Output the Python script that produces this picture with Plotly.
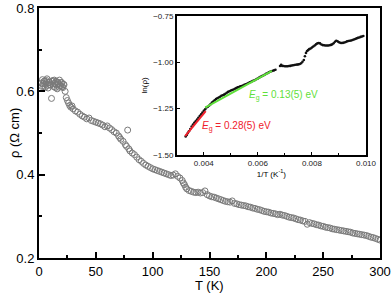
import plotly.graph_objects as go

# Main data: T (K) vs rho (Ohm cm)
T = [2, 2.5, 3, 3.5, 4, 4.5, 5, 5.5, 6, 6.5, 7, 7.5, 8, 8.5, 9, 9.5, 10, 11, 11.5, 12, 12.5, 13, 13.5,
     14, 14.5, 15, 15.5, 16, 16.5, 17, 17.5, 18, 18.5, 19, 19.5, 20, 20.5, 21, 21.5, 22,
     23, 24, 25, 26, 27, 28, 29, 30, 32, 34, 36, 38, 40, 42, 44, 46, 48, 50, 52, 54, 56, 58,
     60, 62, 64, 66, 68, 70, 71, 72, 74, 76, 77, 78, 79, 80, 82, 84, 86, 88, 90, 92, 94, 96, 98,
     100, 102, 104, 106, 108, 110, 112, 114, 116, 118, 120, 122, 124, 126, 127, 128, 129, 130,
     132, 134, 136, 138, 140, 142, 144, 146, 148, 150, 152, 154, 156, 158, 160, 162, 164, 166,
     168, 170, 172, 174, 176, 178, 180, 182, 184, 186, 188, 190, 192, 194, 196, 198, 200, 202,
     204, 206, 208, 210, 212, 214, 216, 218, 220, 222, 224, 226, 228, 230, 232, 234, 236, 238,
     240, 242, 244, 246, 248, 250, 252, 254, 256, 258, 260, 262, 264, 266, 268, 270, 272, 274,
     276, 278, 280, 282, 284, 286, 288, 290, 292, 294, 296, 298, 300]
rho = [0.620, 0.612, 0.628, 0.618, 0.612, 0.624, 0.625, 0.610, 0.617, 0.626, 0.630, 0.614, 0.608, 0.621,
       0.622, 0.616, 0.615, 0.583, 0.624, 0.626, 0.618, 0.611, 0.627, 0.619, 0.609, 0.624, 0.615, 0.606,
       0.622, 0.618, 0.610, 0.627, 0.614, 0.613, 0.621, 0.621, 0.611, 0.609, 0.617, 0.616,
       0.600, 0.585, 0.578, 0.572, 0.566, 0.562, 0.565, 0.558, 0.553, 0.550, 0.545, 0.541, 0.538, 0.534,
       0.536, 0.530, 0.528, 0.526, 0.524, 0.522, 0.519, 0.515, 0.517, 0.512, 0.508, 0.503, 0.500, 0.493,
       0.489, 0.485, 0.480, 0.472, 0.468, 0.507, 0.462, 0.457, 0.452, 0.448, 0.442, 0.436, 0.432, 0.427,
       0.423, 0.420, 0.417, 0.414, 0.412, 0.410, 0.408, 0.406, 0.404, 0.402, 0.400, 0.398, 0.399, 0.402,
       0.396, 0.392, 0.386, 0.380, 0.376, 0.370, 0.366, 0.362, 0.360, 0.358, 0.357, 0.358, 0.356, 0.357,
       0.361, 0.352, 0.349, 0.347, 0.346, 0.344, 0.342, 0.340, 0.338, 0.336, 0.335, 0.334, 0.337, 0.331,
       0.330, 0.328, 0.327, 0.326, 0.325, 0.323, 0.322, 0.320, 0.319, 0.317, 0.316, 0.314, 0.312, 0.311,
       0.310, 0.308, 0.307, 0.306, 0.304, 0.305, 0.303, 0.302, 0.300, 0.298, 0.297, 0.296, 0.294, 0.292,
       0.291, 0.289, 0.288, 0.281, 0.285, 0.283, 0.282, 0.280, 0.279, 0.277, 0.276, 0.274, 0.273, 0.272,
       0.270, 0.269, 0.268, 0.267, 0.266, 0.265, 0.264, 0.263, 0.262, 0.260, 0.259, 0.258, 0.257, 0.256,
       0.255, 0.254, 0.252, 0.250, 0.249, 0.247, 0.245, 0.243]

# Inset data: 1/T (K^-1) vs ln(rho)
invT = [0.00333, 0.00337, 0.00341, 0.00345, 0.00350, 0.00355, 0.00360, 0.00365, 0.00370, 0.00375,
        0.00380, 0.00385, 0.00390, 0.00395, 0.00400, 0.00405, 0.00410, 0.00415, 0.00420, 0.00425,
        0.00430, 0.00435, 0.00440, 0.00445, 0.00450, 0.00455, 0.00460, 0.00465, 0.00470, 0.00475,
        0.00480, 0.00485, 0.00490, 0.00495, 0.00500, 0.00505, 0.00510, 0.00515, 0.00520, 0.00525,
        0.00530, 0.00535, 0.00540, 0.00545, 0.00550, 0.00555, 0.00560, 0.00565, 0.00570, 0.00575,
        0.00580, 0.00585, 0.00590, 0.00595, 0.00600, 0.00605, 0.00610, 0.00615, 0.00620, 0.00625,
        0.00630, 0.00635, 0.00640, 0.00645, 0.00650, 0.00655, 0.00660, 0.00665, 0.00682, 0.00686,
        0.00690, 0.00695, 0.00700, 0.00705, 0.00710, 0.00715, 0.00720, 0.00725, 0.00730, 0.00735,
        0.00740, 0.00745, 0.00750, 0.00755, 0.00760, 0.00765, 0.00770, 0.00774, 0.00778, 0.00782,
        0.00786, 0.00790, 0.00795, 0.00800, 0.00805, 0.00810, 0.00815, 0.00820, 0.00825, 0.00830,
        0.00835, 0.00840, 0.00845, 0.00850, 0.00855, 0.00860, 0.00865, 0.00870, 0.00875, 0.00880,
        0.00885, 0.00890, 0.00895, 0.00900, 0.00905, 0.00910, 0.00915, 0.00920, 0.00925, 0.00930,
        0.00935, 0.00940, 0.00945, 0.00950, 0.00955, 0.00960, 0.00965, 0.00970, 0.00975, 0.00980,
        0.00985, 0.00990]
lnrho = [-1.400, -1.392, -1.382, -1.372, -1.360, -1.347, -1.336, -1.326, -1.318, -1.309,
         -1.300, -1.290, -1.281, -1.272, -1.262, -1.254, -1.244, -1.240, -1.234, -1.226,
         -1.218, -1.212, -1.205, -1.198, -1.194, -1.190, -1.186, -1.181, -1.178, -1.175,
         -1.170, -1.165, -1.160, -1.157, -1.153, -1.150, -1.147, -1.143, -1.140, -1.136,
         -1.134, -1.130, -1.129, -1.126, -1.122, -1.119, -1.116, -1.112, -1.108, -1.106,
         -1.102, -1.099, -1.096, -1.091, -1.088, -1.083, -1.079, -1.075, -1.072, -1.068,
         -1.063, -1.060, -1.055, -1.052, -1.049, -1.046, -1.044, -1.041, -1.021, -1.014,
         -1.020, -1.021, -1.022, -1.022, -1.022, -1.021, -1.020, -1.018, -1.017, -1.015,
         -1.014, -1.013, -1.012, -1.010, -1.006, -0.998, -0.988, -0.968, -0.950, -0.940,
         -0.935, -0.930, -0.926, -0.921, -0.916, -0.910, -0.904, -0.899, -0.897, -0.899,
         -0.905, -0.908, -0.909, -0.910, -0.910, -0.910, -0.909, -0.907, -0.904, -0.898,
         -0.890, -0.885, -0.888, -0.893, -0.896, -0.897, -0.896, -0.894, -0.891, -0.888,
         -0.886, -0.885, -0.883, -0.881, -0.878, -0.875, -0.872, -0.869, -0.867, -0.864,
         -0.862, -0.859]

# Fits
red_x = [0.00331, 0.00407]
red_y = [-1.398, -1.264]
green_x = [0.00405, 0.00652]
green_y = [-1.245, -1.047]

GREEN = "#5fe03a"
RED = "#f0202c"
FONT = "Liberation Sans, Arial, sans-serif"

fig = go.Figure()
fig.add_trace(go.Scatter(x=T, y=rho, mode="markers",
                         marker=dict(symbol="circle-open", size=6, color="#7a7a7a", line=dict(width=1)),
                         xaxis="x", yaxis="y", showlegend=False))
fig.add_trace(go.Scatter(x=invT, y=lnrho, mode="markers",
                         marker=dict(symbol="circle", size=2.6, color="#111111"),
                         xaxis="x2", yaxis="y2", showlegend=False))
fig.add_trace(go.Scatter(x=red_x, y=red_y, mode="lines", line=dict(color=RED, width=2),
                         xaxis="x2", yaxis="y2", showlegend=False))
fig.add_trace(go.Scatter(x=green_x, y=green_y, mode="lines", line=dict(color=GREEN, width=2),
                         xaxis="x2", yaxis="y2", showlegend=False))

axis_main = dict(showline=True, linecolor="black", linewidth=2, mirror=True, ticks="inside",
                 ticklen=6, tickwidth=1.5, tickcolor="black", showgrid=False, zeroline=False,
                 automargin=False,
                 tickfont=dict(size=13, family=FONT, color="black"))
axis_in = dict(showline=True, linecolor="black", linewidth=1.5, mirror=True, ticks="inside",
               ticklen=3, tickwidth=1, tickcolor="black", showgrid=False, zeroline=False,
               automargin=False,
               tickfont=dict(size=8, family=FONT, color="#222"))

fig.update_layout(
    width=392, height=298,
    margin=dict(l=39, r=12, t=8, b=40, autoexpand=False),
    paper_bgcolor="white", plot_bgcolor="white",
    font=dict(family=FONT, color="black"),
    xaxis=dict(**axis_main, range=[0, 300], dtick=50, tick0=0,
               minor=dict(dtick=25, ticks="inside", ticklen=3, tickcolor="black")),
    yaxis=dict(**axis_main, range=[0.2, 0.8], dtick=0.2, tick0=0.2, tickformat=".1f",
               minor=dict(dtick=0.1, ticks="inside", ticklen=3, tickcolor="black")),
    xaxis2=dict(**axis_in, domain=[0.404, 0.959], anchor="y2", range=[0.003, 0.010],
                dtick=0.002, tick0=0.004, tickformat=".3f",
                minor=dict(dtick=0.001, ticks="inside", ticklen=2, tickcolor="black"),
                title=dict(text="1/T (K<sup>-1</sup>)", font=dict(size=8), standoff=2)),
    yaxis2=dict(**axis_in, domain=[0.412, 0.969], anchor="x2", range=[-1.5, -0.75],
                dtick=0.25, tick0=-1.5, tickformat=".2f",
                title=dict(text="ln(ρ)", font=dict(size=8), standoff=4)),
    annotations=[
        dict(x=0.5, y=-0.11, xref="paper", yref="paper", xanchor="center", yanchor="middle",
             text="T (K)", showarrow=False, font=dict(size=13, family=FONT, color="black")),
        dict(x=-0.073, y=0.5, xref="paper", yref="paper", xanchor="center", yanchor="middle",
             text="ρ (Ω cm)", textangle=-90, showarrow=False,
             font=dict(size=13, family=FONT, color="black")),
        dict(x=0.00559, y=-1.181, xref="x2", yref="y2", xanchor="left", yanchor="middle",
             text="<i>E</i><sub>g</sub> = 0.13(5) eV", showarrow=False,
             font=dict(size=10, color=GREEN, family=FONT)),
        dict(x=0.00386, y=-1.344, xref="x2", yref="y2", xanchor="left", yanchor="middle",
             text="<i>E</i><sub>g</sub> = 0.28(5) eV", showarrow=False,
             font=dict(size=10, color=RED, family=FONT)),
    ],
)

fig.write_html("out.html", config={"displayModeBar": False},
               post_script="document.body.style.margin='0';")
